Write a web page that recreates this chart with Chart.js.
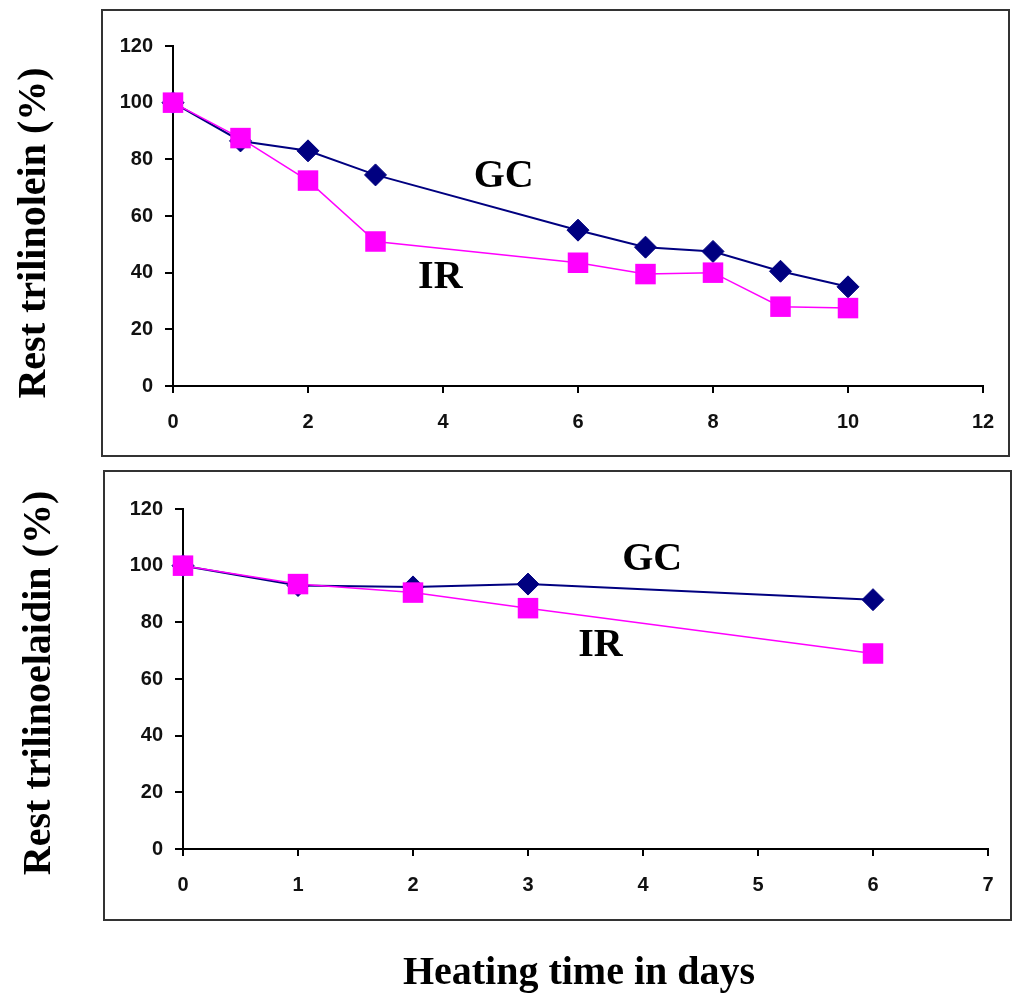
<!DOCTYPE html>
<html>
<head>
<meta charset="utf-8">
<script src="https://cdn.jsdelivr.net/npm/chart.js@4"></script>
<style>
  body { margin: 0; width: 1017px; height: 995px; background: #fff; position: relative; overflow: hidden; }
  .box { position: absolute; border: 2px solid #333; box-sizing: border-box; }
  canvas { position: absolute; left: 0; }
  .ytitle, .xtitle { position: absolute; font-family: "Liberation Serif", "Times New Roman", serif; font-weight: bold; font-size: 40px; color: #000; white-space: nowrap; }
  .ytitle { transform: translate(-50%, -50%) rotate(-90deg); }
  .xtitle { transform: translate(-50%, -50%); }
</style>
</head>
<body>
<div class="box" style="left:101px; top:9px; width:909px; height:448px;"></div>
<div class="box" style="left:103px; top:470px; width:909px; height:451px;"></div>
<canvas id="topChart" width="1017" height="463" style="top:0px"></canvas>
<canvas id="bottomChart" width="1017" height="532" style="top:463px"></canvas>
<div class="ytitle" style="left:31px; top:233px;">Rest trilinolein (%)</div>
<div class="ytitle" style="left:36px; top:683px;">Rest trilinoelaidin (%)</div>
<div class="xtitle" style="left:579px; top:970px;">Heating time in days</div>
<script>
// top panel: trilinolein
var topDays = [0, 1, 2, 3, 6, 7, 8, 9, 10];
var topGC = [100, 86.5, 83, 74.5, 55, 49, 47.5, 40.5, 35];
var topIR = [100, 87.5, 72.5, 51, 43.5, 39.5, 40, 28, 27.5];

// bottom panel: trilinoelaidin
var bottomDays = [0, 1, 2, 3, 6];
var bottomGC = [100, 93, 92.5, 93.5, 88];
var bottomIR = [100, 93.5, 90.5, 85, 69];

// series names written inside the plots, at data coordinates
var topNotes = [{ text: 'GC', x: 4.9, y: 74.9 }, { text: 'IR', x: 3.96, y: 39.1 }];
var bottomNotes = [{ text: 'GC', x: 4.08, y: 103.1 }, { text: 'IR', x: 3.63, y: 72.6 }];

function toPoints(xs, ys) {
    var pts = [];
    for (var i = 0; i < xs.length; i++) {
        pts.push({ x: xs[i], y: ys[i] });
    }
    return pts;
}

var notesPlugin = {
    id: 'notes',
    afterDatasetsDraw: function (chart, args, opts) {
        var ctx = chart.ctx;
        ctx.save();
        ctx.font = 'bold 40px "Liberation Serif", "Times New Roman", serif';
        ctx.fillStyle = '#000';
        ctx.textAlign = 'center';
        ctx.textBaseline = 'alphabetic';
        opts.items.forEach(function (n) {
            var px = chart.scales.x.getPixelForValue(n.x);
            var py = chart.scales.y.getPixelForValue(n.y);
            ctx.fillText(n.text, px, py + 13);
        });
        ctx.restore();
    }
};

function axis(min, max, step, tickLen, pad) {
    return {
        type: 'linear',
        min: min,
        max: max,
        ticks: {
            stepSize: step,
            color: '#111',
            padding: pad,
            font: { family: '"Liberation Sans", Arial, sans-serif', size: 20, weight: 'bold' }
        },
        grid: {
            display: true,
            drawOnChartArea: false,
            drawTicks: true,
            tickLength: tickLen,
            color: '#000',
            lineWidth: 2
        },
        border: { display: true, color: '#000', width: 2 }
    };
}

function makeChart(id, days, gc, ir, xmax, xstep, pad, notes) {
    var xs = axis(0, xmax, xstep, 7, 17);
    xs.afterFit = function (s) { s.height = 50; };
    var ys = axis(0, 120, 20, 8, 12);
    ys.afterFit = function (s) { s.width = 60; };
    return new Chart(document.getElementById(id).getContext('2d'), {
        type: 'line',
        data: {
            datasets: [{
                label: 'GC',
                data: toPoints(days, gc),
                borderColor: '#000080',
                backgroundColor: '#000080',
                borderWidth: 2,
                pointStyle: 'rectRot',
                pointRadius: 11,
                pointBorderWidth: 1,
                clip: false,
                order: 1
            }, {
                label: 'IR',
                data: toPoints(days, ir),
                borderColor: '#FF00FF',
                backgroundColor: '#FF00FF',
                borderWidth: 1.5,
                pointStyle: 'rect',
                pointRadius: 14.5,
                pointBorderWidth: 0,
                clip: false,
                order: 0
            }]
        },
        options: {
            responsive: false,
            animation: false,
            devicePixelRatio: 1,
            layout: { padding: pad },
            plugins: {
                legend: { display: false },
                tooltip: { enabled: false },
                notes: { items: notes }
            },
            scales: { x: xs, y: ys }
        },
        plugins: [notesPlugin]
    });
}

makeChart('topChart', topDays, topGC, topIR, 12, 2,
    { left: 113, top: 46, right: 34, bottom: 27 }, topNotes);
makeChart('bottomChart', bottomDays, bottomGC, bottomIR, 7, 1,
    { left: 123, top: 46, right: 29, bottom: 96 }, bottomNotes);
</script>
</body>
</html>
